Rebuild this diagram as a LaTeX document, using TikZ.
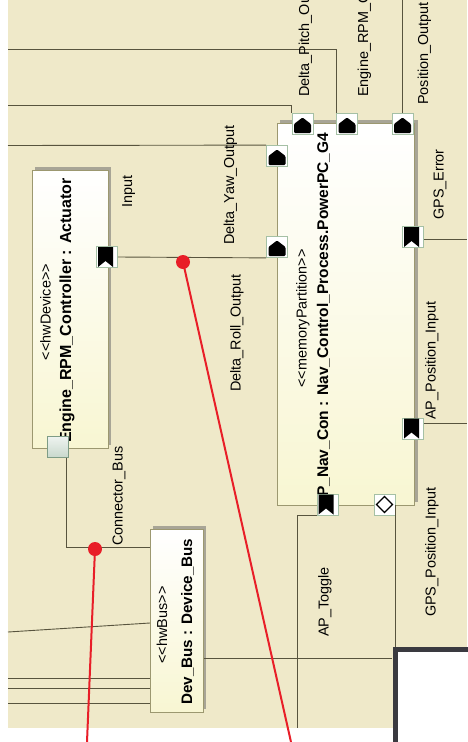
\documentclass[tikz,border=0pt]{standalone}
\usepackage{fontspec}
\setmainfont{Liberation Sans}
\definecolor{bgc}{RGB}{239,233,201}
\definecolor{lnc}{RGB}{88,84,62}
\definecolor{shdc}{RGB}{168,165,150}
\definecolor{boxedge}{RGB}{156,152,112}
\definecolor{boxyel}{RGB}{248,246,210}
\definecolor{portedge}{RGB}{165,192,165}
\definecolor{busport}{RGB}{200,216,204}
\definecolor{busedge}{RGB}{126,156,134}
\definecolor{redc}{RGB}{232,30,40}
\definecolor{darkc}{RGB}{58,58,64}
\newcommand\ltlt{<\kern0pt<}
\newcommand\gtgt{>\kern0pt>}
\tikzset{
  uparrowmark/.pic={\fill[black, rounded corners=1.2pt] (-8.5,9) -- (-8.5,0) -- (0,-6.5) -- (8.5,0) -- (8.5,9) -- cycle;},
  flagmark/.pic={\fill[black] (-9,-10) -- (6,-10) -- (6,10) -- (-1.5,4) -- (-9,10) -- cycle;},
  diamark/.pic={\draw[black, line width=1.3pt] (-8,0) -- (0,-8) -- (8,0) -- (0,8) -- cycle;}
}
\begin{document}
\begin{tikzpicture}[x=1pt,y=-1pt,
  conn/.style={draw=lnc, line width=0.9pt},
  hwbox/.style={draw=boxedge, line width=0.8pt, top color=white, bottom color=boxyel, inner sep=0pt, anchor=north west},
  portbox/.style={draw=portedge, fill=white, line width=0.8pt, minimum size=21pt, inner sep=0pt},
  lbl/.style={rotate=90, anchor=base west, inner sep=0pt, font=\fontsize{14.4}{16}\selectfont},
  ster/.style={rotate=90, anchor=base, inner sep=0pt, font=\fontsize{14.4}{16}\selectfont},
  ttl/.style={rotate=90, anchor=base west, inner sep=0pt, font=\bfseries\fontsize{#1}{18}\selectfont},
  redline/.style={draw=redc, line width=2pt},
  reddot/.style={circle, fill=redc, minimum size=14pt, inner sep=0pt}
]
\path[use as bounding box] (0,0) rectangle (467,742);
\fill[white] (0,0) rectangle (467,742);
\fill[bgc] (8,0) rectangle (467,728);

% boxes with shadows
\fill[shdc] (35,167) rectangle (111,445);
\node[hwbox, minimum width=76pt, minimum height=278pt] (eng) at (32,170) {};
\fill[shdc] (280,119.5) rectangle (418,502);
\node[hwbox, minimum width=137pt, minimum height=382pt] (nav) at (277,123) {};
\fill[shdc] (153,526) rectangle (206,709);
\node[hwbox, minimum width=53pt, minimum height=183pt] (bus) at (150,529) {};

% big dark frame
\node[draw=darkc, line width=5.5pt, fill=white, anchor=north west, minimum width=110pt, minimum height=130pt, inner sep=0pt] (big) at (392.75,646.75) {};

% box texts
\node[ster] (sEng) at (50.5,312) {\ltlt hwDevice\gtgt};
\node[ttl=16] (tEng) at (71,443) {Engine\_RPM\_Controller : Actuator};
\node[ster] (sNav) at (306.5,318.5) {\ltlt memoryPartition\gtgt};
\node[ttl=15.5] (tNav) at (328,497) {P\_Nav\_Con : Nav\_Control\_Process.PowerPC\_G4};
\node[ster] (sBus) at (167,625) {\ltlt hwBus\gtgt};
\node[ttl=15.2] (tBus) at (192,705) {Dev\_Bus : Device\_Bus};

% connector end points
\coordinate (l1) at (8,49);
\coordinate (l2) at (8,105);
\coordinate (l3) at (8,145.5);
\coordinate (t1) at (402.5,0);
\coordinate (r1) at (467,239);
\coordinate (r2) at (467,423);
\coordinate (bj) at (66,547);
\coordinate (l4) at (8,632);
\coordinate (m4) at (150,623);
\coordinate (l5) at (8,678);
\coordinate (l6) at (8,688);
\coordinate (l7) at (8,703);
\coordinate (r3) at (392,658);
\coordinate (b1) at (297,728);

% ports
\node[portbox] (pPitch) at (302.5,124) {};
\node[portbox] (pEngR) at (347,124) {};
\node[portbox] (pPos) at (402.5,124) {};
\node[portbox] (pYaw) at (277,156) {};
\node[portbox] (pRoll) at (277,247) {};
\node[portbox] (pIn) at (107,257) {};
\node[portbox] (pErr) at (413,237) {};
\node[portbox] (pAPp) at (413,428.5) {};
\node[portbox] (pTog) at (327.5,504.5) {};
\node[portbox] (pGps) at (384.5,504.5) {};
\node[draw=busedge, top color=white!70!busport, bottom color=busport, line width=0.8pt, minimum size=21pt, inner sep=0pt] (pBus) at (58,447) {};

\pic at (pPitch) {uparrowmark};
\pic at (pEngR) {uparrowmark};
\pic at (pPos) {uparrowmark};
\pic at (pYaw) {uparrowmark};
\pic at (pRoll) {uparrowmark};
\pic at (pIn) {flagmark};
\pic at (pErr) {flagmark};
\pic at (pAPp) {flagmark};
\pic at (pTog) {flagmark};
\pic at (pGps) {diamark};

\draw[conn] (l1) -| (pEngR.north west);
\draw[conn] (l2) -| (pPitch.north west);
\draw[conn] (l3) -- (pYaw.north west);
\draw[conn] (t1) -- (pPos.north);
\draw[conn] (pIn.east) -- (pRoll.south west);
\draw[conn] (pErr.east |- r1) -- (r1);
\draw[conn] (pAPp.east |- r2) -- (r2);
\draw[conn] (pBus.south -| bj) -- (bj) -- (bj -| bus.west);
\draw[conn] (l4) -- (bus.west |- m4);
\draw[conn] (l5) -- (l5 -| bus.west);
\draw[conn] (l6) -- (l6 -| bus.west);
\draw[conn] (l7) -- (l7 -| bus.west);
\draw[conn] (bus.east |- r3) -- (r3);
\draw[conn] (pTog.south west) -| (b1);
\draw[conn] (pGps.east) -- (pGps.east |- big.north);

% labels
\node[lbl] (lPitch) at (309,97) {Delta\_Pitch\_Output};
\node[lbl] (lEngR) at (368,97) {Engine\_RPM\_Output};
\node[lbl] (lPos) at (428,105) {Position\_Output};
\node[lbl] (lYaw) at (234,245) {Delta\_Yaw\_Output};
\node[lbl] (lIn) at (132,208) {Input};
\node[lbl] (lRoll) at (240.5,392) {Delta\_Roll\_Output};
\node[lbl] (lErr) at (443.5,220) {GPS\_Error};
\node[lbl] (lAPp) at (435.5,420) {AP\_Position\_Input};
\node[lbl] (lGps) at (435.5,617) {GPS\_Position\_Input};
\node[lbl] (lTog) at (328.5,637) {AP\_Toggle};
\node[lbl] (lBus) at (122.5,546) {Connector\_Bus};

% red annotation
\coordinate (re1) at (291,742);
\coordinate (re2) at (87,742);
\node[reddot] (rd1) at (183,262) {};
\node[reddot] (rd2) at (95,549) {};
\draw[redline] (rd1.center) -- (re1);
\draw[redline] (rd2.center) -- (re2);
\end{tikzpicture}
\end{document}
